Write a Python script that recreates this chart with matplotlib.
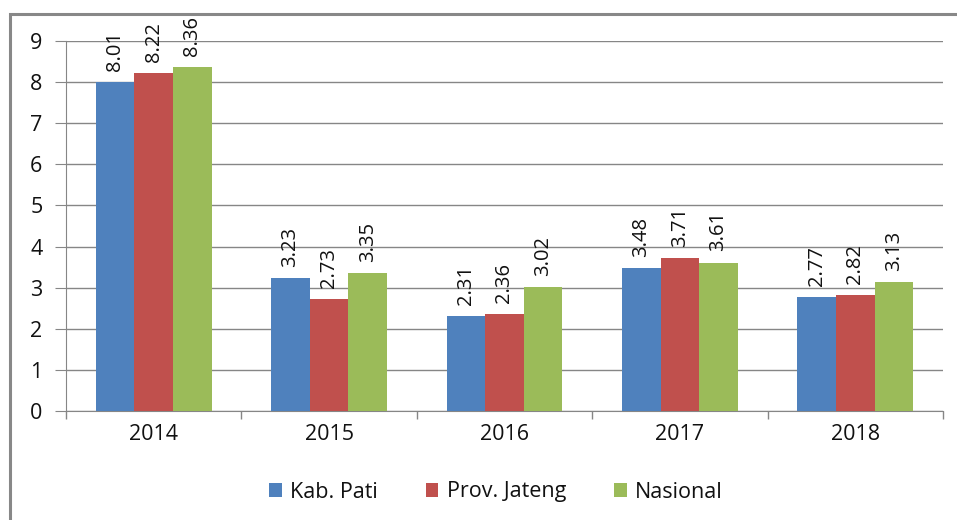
import numpy as np
from matplotlib import pyplot as plt
from matplotlib.patches import Rectangle

years = ['2014', '2015', '2016', '2017', '2018']
kab_pati = [8.01, 3.23, 2.31, 3.48, 2.77]
prov_jateng = [8.22, 2.73, 2.36, 3.71, 2.82]
nasional = [8.36, 3.35, 3.02, 3.61, 3.13]

series = [('Kab. Pati', kab_pati, '#4F81BD'),
          ('Prov. Jateng', prov_jateng, '#C0504D'),
          ('Nasional', nasional, '#9BBB59')]

plt.rcParams['font.family'] = ['Open Sans', 'DejaVu Sans']

fig = plt.figure(figsize=(9.57, 5.2), dpi=100)
ax = fig.add_axes([66/957, 1 - 411/520, (943 - 66)/957, (411 - 41)/520])

x = np.arange(len(years))
w = 0.22
for i, (name, vals, col) in enumerate(series):
    pos = x + (i - 1) * w
    bars = ax.bar(pos, vals, w, color=col, label=name, zorder=3)
    for xp, v in zip(pos, vals):
        ax.annotate('%.2f' % v, (xp, v), xytext=(0, 8), textcoords='offset points',
                    rotation=90, ha='center', va='bottom', fontsize=14.5, color='#111111')

ax.set_xlim(-0.5, len(years) - 0.5)
ax.set_ylim(0, 9)
ax.set_yticks(range(0, 10))
ax.set_xticks(x)
ax.set_xticklabels(years)
ax.set_xticks(np.arange(-0.5, len(years)), minor=True)
ax.tick_params(axis='x', which='major', length=0, pad=9, labelsize=15.5, labelcolor='#111111')
ax.tick_params(axis='x', which='minor', length=6, color='#868686', width=1)
ax.tick_params(axis='y', length=8, color='#868686', pad=9, labelsize=15.5, labelcolor='#111111')
ax.grid(axis='y', color='#868686', linewidth=1, zorder=0)
for s in ['top', 'right']:
    ax.spines[s].set_visible(False)
for s in ['left', 'bottom']:
    ax.spines[s].set_color('#868686')

ax.legend(loc='center', bbox_to_anchor=(496/957, 1 - 492/520), bbox_transform=fig.transFigure,
          ncol=3, frameon=False, fontsize=15.5, handlelength=0.6, handleheight=0.6,
          columnspacing=2.2, handletextpad=0.4, labelcolor='#111111')

fig.patches.append(Rectangle((10/957, -0.1), 1.2, 1 - 14/520 + 0.1, transform=fig.transFigure,
                             fill=False, edgecolor='#888888', linewidth=2.2))

fig.savefig('out.png', dpi=100)
